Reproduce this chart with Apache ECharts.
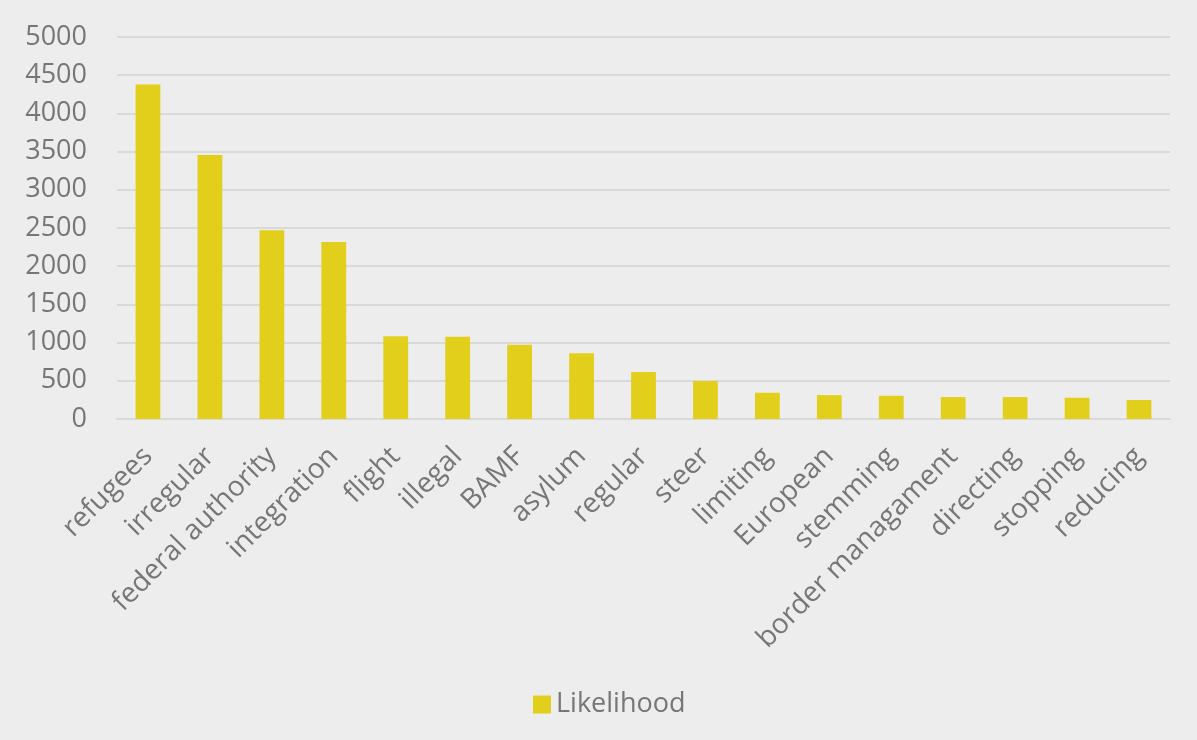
<!DOCTYPE html>
<html><head><meta charset="utf-8">
<script src="https://cdn.jsdelivr.net/npm/echarts@6/dist/echarts.min.js"></script>
<style>html,body{margin:0;padding:0;background:#ededed;}#c{width:1197px;height:740px;}</style>
</head><body><div id="c"></div>
<script>
const categories = ["refugees","irregular","federal authority","integration","flight","illegal","BAMF","asylum","regular","steer","limiting","European","stemming","border managament","directing","stopping","reducing"];
const likelihood = [4378,3454,2470,2317,1082,1075,971,862,614,497,344,313,304,287,287,278,248];
const seriesName = "Likelihood";
const chart = echarts.init(document.getElementById('c'));
const txt = '#767676';
const ff = 'Open Sans';
chart.setOption({
  backgroundColor: '#ededed',
  animation: false,
  grid: {left: 117, right: 27, top: 37, bottom: 321, containLabel: false},
  legend: {top: 686, left: 528, icon: 'rect', itemWidth: 18, itemHeight: 18, itemGap: 9,
    textStyle: {color: txt, fontSize: 27, fontFamily: ff}, data: [seriesName]},
  xAxis: {type: 'category', data: categories,
    axisLine: {lineStyle: {color: '#d9d9d9', width: 2}}, axisTick: {show: false},
    axisLabel: {interval: 0, rotate: 45, color: txt, fontSize: 28, fontFamily: ff, margin: 33}},
  yAxis: {type: 'value', min: 0, max: 5000, interval: 500,
    axisLine: {show: false}, axisTick: {show: false},
    splitLine: {lineStyle: {color: '#d9d9d9', width: 2}},
    axisLabel: {color: txt, fontSize: 27, fontFamily: ff, margin: 30, formatter: v => String(v)}},
  series: [{name: seriesName, type: 'bar', data: likelihood, barWidth: '40%',
    itemStyle: {color: '#e2cf1c'}}]
});
</script></body></html>
